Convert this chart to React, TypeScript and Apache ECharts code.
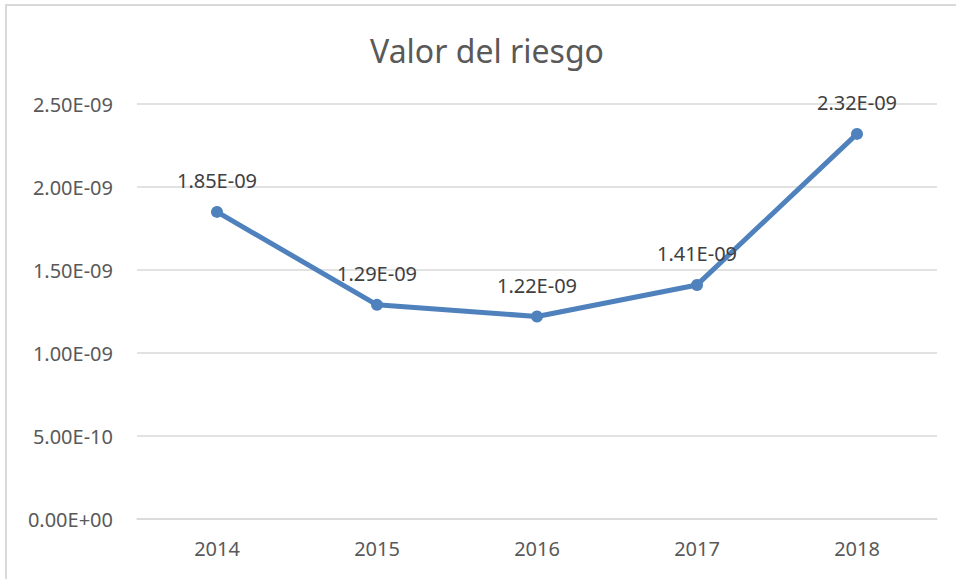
import React, { useEffect, useRef } from "react";
import * as echarts from "echarts";

const title = "Valor del riesgo";
const years = ["2014", "2015", "2016", "2017", "2018"];
const values = [1.85e-9, 1.29e-9, 1.22e-9, 1.41e-9, 2.32e-9];
const yMin = 0;
const yMax = 2.5e-9;
const yInterval = 5e-10;

function sci(v: number): string {
  if (v === 0) return "0.00E+00";
  const s = v.toExponential(2);
  const [m, e] = s.split("e");
  const n = parseInt(e, 10);
  const sign = n < 0 ? "-" : "+";
  const abs = Math.abs(n);
  return m + "E" + sign + (abs < 10 ? "0" + abs : String(abs));
}

const FONT = "'Noto Sans', 'Open Sans', sans-serif";

export default function App() {
  const ref = useRef<HTMLDivElement>(null);
  useEffect(() => {
    if (!ref.current) return;
    const chart = echarts.init(ref.current, undefined, { renderer: "svg" });
    chart.setOption({
      animation: false,
      backgroundColor: "#ffffff",
      title: {
        text: title,
        left: 482,
        top: 29,
        textAlign: "center",
        textStyle: {
          fontFamily: FONT,
          fontSize: 32,
          fontWeight: "normal",
          color: "#595959",
        },
      },
      graphic: [
        {
          type: "rect",
          shape: { x: 6, y: 5, width: 1200, height: 1200 },
          style: { fill: "none", stroke: "#d9d9d9", lineWidth: 2 },
          silent: true,
        },
      ],
      grid: { left: 137, right: 19, top: 104, bottom: 60 },
      xAxis: {
        type: "category",
        data: years,
        boundaryGap: true,
        axisLine: { show: true, lineStyle: { color: "#d9d9d9", width: 1.5 } },
        axisTick: { show: false },
        axisLabel: {
          fontFamily: FONT,
          fontSize: 20,
          color: "#595959",
          margin: 19,
        },
      },
      yAxis: {
        type: "value",
        min: yMin,
        max: yMax,
        interval: yInterval,
        axisLine: { show: false },
        axisTick: { show: false },
        splitLine: { lineStyle: { color: "#d9d9d9", width: 1.5 } },
        axisLabel: {
          fontFamily: FONT,
          fontSize: 20,
          color: "#595959",
          margin: 24,
          formatter: (v: number) => sci(v),
        },
      },
      series: [
        {
          type: "line",
          data: values,
          symbol: "circle",
          symbolSize: 12,
          lineStyle: { color: "#4f81bd", width: 5 },
          itemStyle: { color: "#4f81bd" },
          label: {
            show: true,
            position: "top",
            distance: 15,
            fontFamily: FONT,
            fontSize: 20,
            color: "#404040",
            formatter: (p: any) => sci(p.value),
          },
        },
      ],
    });
    return () => chart.dispose();
  }, []);
  return (
    <div
      ref={ref}
      style={{ position: "fixed", left: 0, top: 0, width: 956, height: 579 }}
    />
  );
}
